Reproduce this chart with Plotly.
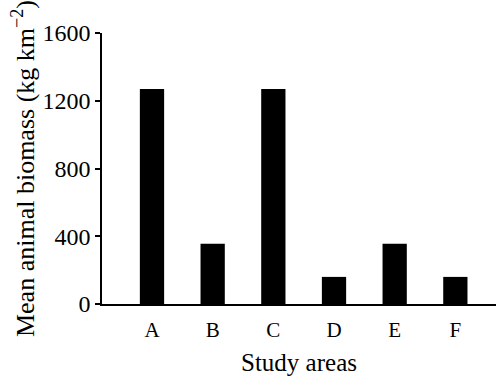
import plotly.graph_objects as go

categories = ["A", "B", "C", "D", "E", "F"]
biomass = [1270, 355, 1270, 160, 355, 160]
y_ticks = [0, 400, 800, 1200, 1600]

font = "Liberation Serif, Times New Roman, serif"

fig = go.Figure(go.Bar(x=categories, y=biomass, marker=dict(color="black", line=dict(width=0)), width=0.4))

fig.update_layout(
    width=497, height=378,
    margin=dict(l=102, r=1, t=33, b=74),
    paper_bgcolor="white", plot_bgcolor="white",
    showlegend=False,
    font=dict(family=font, size=22, color="black"),
)
fig.update_xaxes(
    range=[-0.824, 5.67], showline=True, linecolor="black", linewidth=1.5,
    ticks="", showgrid=False, zeroline=False, ticklabelstandoff=6,
    title=dict(text="Study areas", font=dict(size=25), standoff=13),
    tickfont=dict(size=21),
)
fig.update_yaxes(
    range=[0, 1600], tickvals=y_ticks, showline=True, linecolor="black", linewidth=1.5,
    ticks="outside", ticklen=5, tickwidth=1.5, tickcolor="black",
    showgrid=False, zeroline=False, ticklabelstandoff=0,
    title=dict(text="Mean animal biomass (kg km<sup>−2</sup>)", font=dict(size=26), standoff=0),
    tickfont=dict(size=24),
)

fig.write_html(
    "out.html",
    config={"displayModeBar": False},
    post_script=["document.body.style.margin='0';document.body.style.overflow='hidden';"
                 "Plotly.relayout(document.getElementById('{plot_id}'), {width: 497, height: 378});"],
)
